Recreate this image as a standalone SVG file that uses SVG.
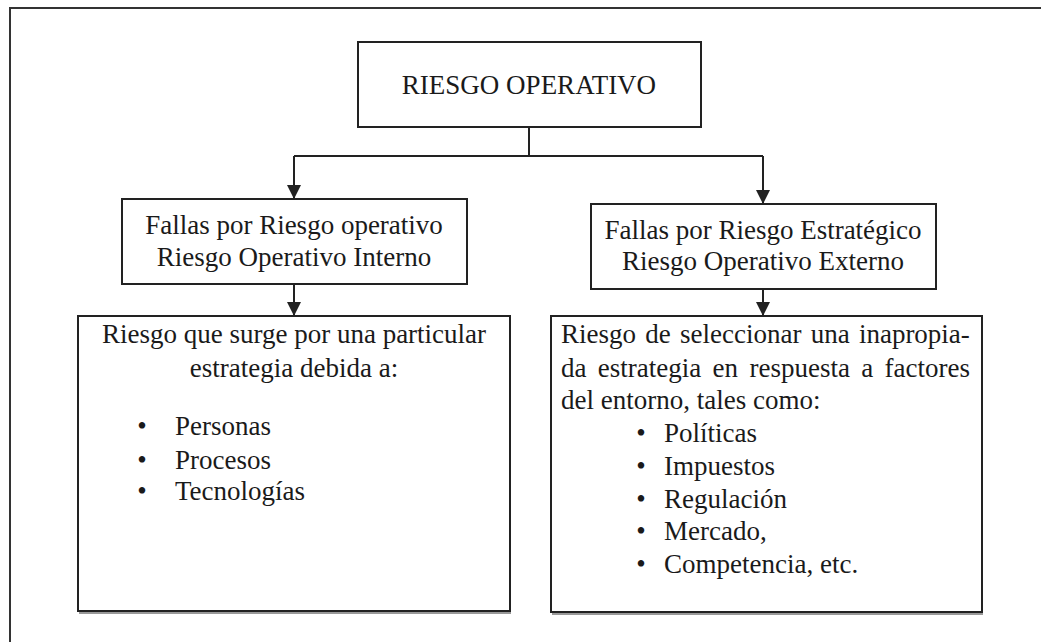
<svg xmlns="http://www.w3.org/2000/svg" width="1041" height="642" viewBox="0 0 1041 642">
<style>
.box{fill:#fff;stroke:#222;stroke-width:2}
.sh{fill:none;stroke:#999;stroke-width:2}
.t{font-family:"Liberation Serif","Times New Roman",serif;font-size:27px;fill:#1a1a1a}
.c{text-anchor:middle}
.ln{fill:none;stroke:#222;stroke-width:2}
</style>
<defs>
<marker id="ah" viewBox="0 0 14 14" refX="14" refY="7" markerWidth="14" markerHeight="14" markerUnits="userSpaceOnUse" orient="auto">
<path d="M0,0 L14,7 L0,14 Z" fill="#222"/>
</marker>
</defs>
<rect x="0" y="0" width="1041" height="642" fill="#fff"/>
<path d="M10,650 L10,8 L1050,8" fill="none" stroke="#333" stroke-width="2"/>
<g id="connectors">
<path class="ln" d="M529,127 L529,156"/>
<path class="ln" d="M294,156 L763,156"/>
<path class="ln" d="M294,156 L294,199" marker-end="url(#ah)"/>
<path class="ln" d="M763,156 L763,204" marker-end="url(#ah)"/>
<path class="ln" d="M294,284 L294,316" marker-end="url(#ah)"/>
<path class="ln" d="M763,289 L763,316" marker-end="url(#ah)"/>
</g>
<g id="root">
<rect class="box" x="358" y="42" width="343" height="85"/>
<text class="t c" x="529" y="94">RIESGO OPERATIVO</text>
</g>
<g id="internal">
<rect class="box" x="122" y="199" width="345" height="85"/>
<text class="t c" x="294" y="234">Fallas por Riesgo operativo</text>
<text class="t c" x="294" y="266">Riesgo Operativo Interno</text>
</g>
<g id="external">
<rect class="box" x="591" y="204" width="345" height="85"/>
<text class="t c" x="763" y="239">Fallas por Riesgo Estratégico</text>
<text class="t c" x="763" y="270">Riesgo Operativo Externo</text>
</g>
<g id="internal-detail">
<path class="sh" d="M79,613 L511,613"/>
<rect class="box" x="78" y="316" width="432" height="295"/>
<text class="t c" x="294" y="343">Riesgo que surge por una particular</text>
<text class="t c" x="294" y="377">estrategia debida a:</text>
<text class="t c" x="142" y="435">•</text>
<text class="t" x="175" y="435">Personas</text>
<text class="t c" x="142" y="469">•</text>
<text class="t" x="175" y="469">Procesos</text>
<text class="t c" x="142" y="500">•</text>
<text class="t" x="175" y="500">Tecnologías</text>
</g>
<g id="external-detail">
<path class="sh" d="M552,614 L983,614"/>
<rect class="box" x="551" y="316" width="431" height="296"/>
<text class="t" x="561" y="343" word-spacing="2.5">Riesgo de seleccionar una inapropia-</text>
<text class="t" x="561" y="377" word-spacing="4.6">da estrategia en respuesta a factores</text>
<text class="t" x="561" y="409">del entorno, tales como:</text>
<text class="t c" x="641" y="442">•</text>
<text class="t" x="664" y="442">Políticas</text>
<text class="t c" x="641" y="475">•</text>
<text class="t" x="664" y="475">Impuestos</text>
<text class="t c" x="641" y="508">•</text>
<text class="t" x="664" y="508">Regulación</text>
<text class="t c" x="641" y="540">•</text>
<text class="t" x="664" y="540">Mercado,</text>
<text class="t c" x="641" y="573">•</text>
<text class="t" x="664" y="573">Competencia, etc.</text>
</g>
</svg>
